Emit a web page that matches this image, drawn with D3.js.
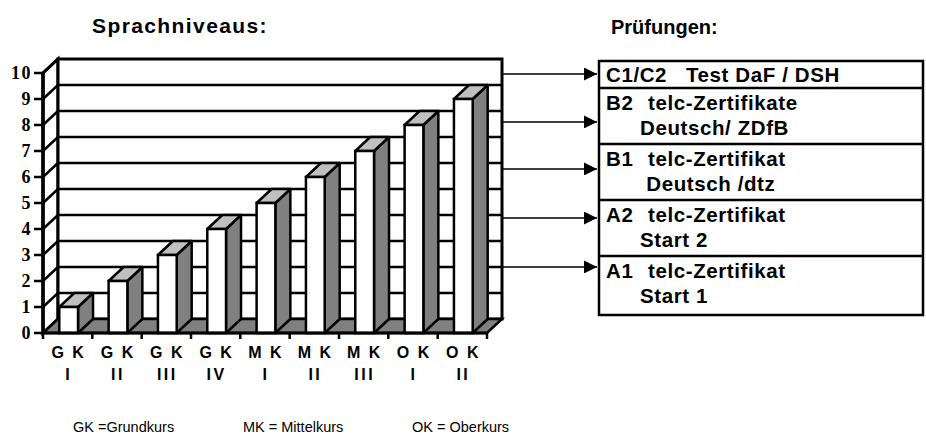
<!DOCTYPE html>
<html>
<head>
<meta charset="utf-8">
<script src="https://cdn.jsdelivr.net/npm/d3@7"></script>
<style>
  body { margin: 0; background: #fff; }
  text { font-family: "Liberation Sans", Arial, sans-serif; }
</style>
</head>
<body>
<svg id="canvas" width="926" height="439"></svg>
<script>
// data
var courseTop = ["G K", "G K", "G K", "G K", "M K", "M K", "M K", "O K", "O K"];
var courseBottom = ["I", "II", "III", "IV", "I", "II", "III", "I", "II"];
var levels = [1, 2, 3, 4, 5, 6, 7, 8, 9];
var yTicks = [0, 1, 2, 3, 4, 5, 6, 7, 8, 9, 10];
var examCodes = ["C1/C2", "B2", "B1", "A2", "A1"];
var examLine1 = ["Test DaF / DSH", "telc-Zertifikate", "telc-Zertifikat", "telc-Zertifikat", "telc-Zertifikat"];
var examLine2 = ["", "Deutsch/ ZDfB", " Deutsch /dtz", "Start 2", "Start 1"];
var arrowLevels = [9.96, 8.12, 6.31, 4.42, 2.54];
var legendTexts = ["GK =Grundkurs", "MK = Mittelkurs", "OK = Oberkurs"];

var svg = d3.select("#canvas");

var x = d3.scaleBand()
    .domain(d3.range(levels.length))
    .range([43, 487]);

var y = d3.scaleLinear()
    .domain([0, 10])
    .range([333, 73]);

var dx = 15, dy = -14;   // depth of the 3d box
var x0 = x.range()[0], x1 = x.range()[1];
var bw = x.bandwidth();

function pts(a) { return a.map(function (p) { return p.join(","); }).join(" "); }

// left side wall
svg.append("polygon")
    .attr("points", pts([[x0, y(0)], [x0, y(10)], [x0 + dx, y(10) + dy], [x0 + dx, y(0) + dy]]))
    .attr("fill", "#fff").attr("stroke", "#000").attr("stroke-width", 3);

// back wall
svg.append("rect")
    .attr("x", x0 + dx).attr("y", y(10) + dy)
    .attr("width", x1 - x0).attr("height", y(0) - y(10))
    .attr("fill", "#fff").attr("stroke", "#000").attr("stroke-width", 3);

// gridlines on back wall and side wall
svg.selectAll(".grid")
    .data(yTicks.slice(1, 10))
    .enter().append("line")
    .attr("x1", x0 + dx).attr("x2", x1 + dx)
    .attr("y1", function (d) { return y(d) + dy; })
    .attr("y2", function (d) { return y(d) + dy; })
    .attr("stroke", "#000").attr("stroke-width", 2.5);

svg.selectAll(".sgrid")
    .data(yTicks)
    .enter().append("line")
    .attr("x1", x0).attr("x2", x0 + dx)
    .attr("y1", function (d) { return y(d); })
    .attr("y2", function (d) { return y(d) + dy; })
    .attr("stroke", "#000").attr("stroke-width", 2.5);

// floor
svg.append("polygon")
    .attr("points", pts([[x0, y(0)], [x1, y(0)], [x1 + dx, y(0) + dy], [x0 + dx, y(0) + dy]]))
    .attr("fill", "#808080").attr("stroke", "#000").attr("stroke-width", 2.5);

// bars
var bars = svg.selectAll(".bar")
    .data(levels)
    .enter().append("g")
    .attr("class", "bar");

function bx(i) { return x(i) + bw * 0.33; }
var fw = bw * 0.38;

bars.append("polygon")   // side
    .attr("points", function (d, i) {
        var l = bx(i) + fw;
        return pts([[l, y(0)], [l, y(d)], [l + dx, y(d) + dy], [l + dx, y(0) + dy]]);
    })
    .attr("fill", "#808080").attr("stroke", "#000").attr("stroke-width", 2.5).attr("stroke-linejoin", "round");

bars.append("polygon")   // top
    .attr("points", function (d, i) {
        var l = bx(i);
        return pts([[l, y(d)], [l + fw, y(d)], [l + fw + dx, y(d) + dy], [l + dx, y(d) + dy]]);
    })
    .attr("fill", "#c0c0c0").attr("stroke", "#000").attr("stroke-width", 2.5).attr("stroke-linejoin", "round");

bars.append("rect")      // front
    .attr("x", function (d, i) { return bx(i); })
    .attr("y", function (d) { return y(d); })
    .attr("width", fw)
    .attr("height", function (d) { return y(0) - y(d); })
    .attr("fill", "#fff").attr("stroke", "#000").attr("stroke-width", 2.5);

// front axes
svg.append("line")
    .attr("x1", x0).attr("x2", x0).attr("y1", y(0)).attr("y2", y(10))
    .attr("stroke", "#000").attr("stroke-width", 3.5);
svg.append("line")
    .attr("x1", x0).attr("x2", x1).attr("y1", y(0)).attr("y2", y(0))
    .attr("stroke", "#000").attr("stroke-width", 3);

svg.selectAll(".ytick")
    .data(yTicks)
    .enter().append("line")
    .attr("x1", x0 - 9).attr("x2", x0)
    .attr("y1", function (d) { return y(d); })
    .attr("y2", function (d) { return y(d); })
    .attr("stroke", "#000").attr("stroke-width", 2.5);

svg.selectAll(".ylab")
    .data(yTicks)
    .enter().append("text")
    .attr("x", 32)
    .attr("y", function (d) { return y(d) + 6; })
    .attr("text-anchor", "end")
    .style("font-family", "'Liberation Serif', 'Times New Roman', serif")
    .attr("font-weight", "bold")
    .attr("font-size", "18px")
    .attr("letter-spacing", "1.5px")
    .text(function (d) { return d; });

svg.selectAll(".xtick")
    .data(d3.range(levels.length + 1))
    .enter().append("line")
    .attr("x1", function (d) { return x0 + d * bw; })
    .attr("x2", function (d) { return x0 + d * bw; })
    .attr("y1", y(0)).attr("y2", y(0) + 6)
    .attr("stroke", "#000").attr("stroke-width", 2.5);

svg.selectAll(".xlab1")
    .data(courseTop)
    .enter().append("text")
    .attr("x", function (d, i) { return x(i) + bw / 2 + 1; })
    .attr("y", 358)
    .attr("text-anchor", "middle")
    .attr("font-weight", "bold").attr("font-size", "16px")
    .attr("letter-spacing", "2px")
    .text(function (d) { return d; });

svg.selectAll(".xlab2")
    .data(courseBottom)
    .enter().append("text")
    .attr("x", function (d, i) { return x(i) + bw / 2 + 1; })
    .attr("y", 380)
    .attr("text-anchor", "middle")
    .attr("font-weight", "bold").attr("font-size", "16px")
    .attr("letter-spacing", "2.5px")
    .text(function (d) { return d; });

// titles
svg.append("text").attr("x", 92).attr("y", 33)
    .attr("font-weight", "bold").attr("font-size", "21px")
    .attr("letter-spacing", "1.4px")
    .text("Sprachniveaus:");
svg.append("text").attr("x", 611).attr("y", 34)
    .attr("font-weight", "bold").attr("font-size", "20px")
    .text("Prüfungen:");

// arrows
svg.append("defs").append("marker")
    .attr("id", "head")
    .attr("viewBox", "0 0 10 10")
    .attr("refX", 10).attr("refY", 5)
    .attr("markerUnits", "userSpaceOnUse")
    .attr("markerWidth", 16).attr("markerHeight", 13)
    .attr("orient", "auto")
    .append("path").attr("d", "M0,0 L10,5 L0,10 Z").attr("fill", "#000");

svg.selectAll(".arrow")
    .data(arrowLevels)
    .enter().append("line")
    .attr("x1", x1 + dx).attr("x2", 597)
    .attr("y1", function (d) { return y(d); })
    .attr("y2", function (d) { return y(d); })
    .attr("stroke", "#000").attr("stroke-width", 1.5)
    .attr("marker-end", "url(#head)");

// exam box
var rowTops = [61, 88, 144, 200, 256, 315];
svg.append("rect")
    .attr("x", 599).attr("y", rowTops[0])
    .attr("width", 324).attr("height", rowTops[5] - rowTops[0])
    .attr("fill", "none").attr("stroke", "#000").attr("stroke-width", 2.5);

svg.selectAll(".sep")
    .data(rowTops.slice(1, 5))
    .enter().append("line")
    .attr("x1", 599).attr("x2", 923)
    .attr("y1", function (d) { return d; }).attr("y2", function (d) { return d; })
    .attr("stroke", "#000").attr("stroke-width", 2.5);

var rows = svg.selectAll(".row")
    .data(examCodes)
    .enter().append("g")
    .attr("font-weight", "bold").attr("font-size", "20.5px")
    .attr("letter-spacing", "0.6px");

rows.append("text")
    .attr("x", 606)
    .attr("y", function (d, i) { return i === 0 ? 82 : rowTops[i] + 22; })
    .attr("xml:space", "preserve")
    .text(function (d, i) { return i === 0 ? d + "   " + examLine1[i] : d; });

rows.filter(function (d, i) { return i > 0; }).append("text")
    .attr("x", 648)
    .attr("y", function (d, i) { return rowTops[i + 1] + 22; })
    .text(function (d, i) { return examLine1[i + 1]; });

rows.filter(function (d, i) { return i > 0; }).append("text")
    .attr("x", 640)
    .attr("y", function (d, i) { return rowTops[i + 1] + 47; })
    .attr("xml:space", "preserve")
    .text(function (d, i) { return examLine2[i + 1]; });

// legend
var legendX = [73, 243, 412];
svg.selectAll(".legend")
    .data(legendTexts)
    .enter().append("text")
    .attr("x", function (d, i) { return legendX[i]; })
    .attr("y", 432)
    .attr("font-size", "14.5px")
    .text(function (d) { return d; });
</script>
</body>
</html>
